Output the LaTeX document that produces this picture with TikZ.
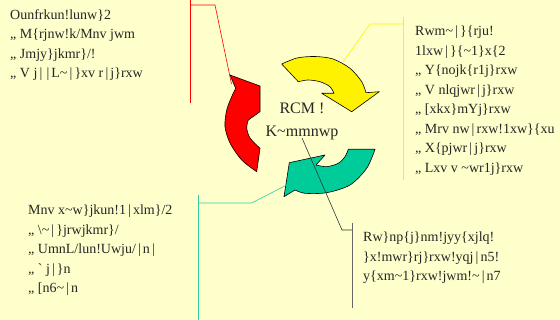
\documentclass[tikz,border=0pt]{standalone}
\usepackage{fontspec}
\setmainfont{Liberation Serif}
\usepackage{tikz}
\definecolor{paper}{HTML}{FFFFCC}
\definecolor{sea}{HTML}{00CC99}
\definecolor{sealine}{HTML}{33CC99}
\newcommand{\vb}{\makebox[7pt]{\textbar}}
\newcommand{\tld}{\textasciitilde}
\tikzset{x=1pt, y=-1pt,
	note/.style={anchor=north west, inner sep=0pt, align=left, text=black!85, font=\fontsize{14}{19.5}\selectfont},
	band/.style={draw=black, line width=0.6pt, line join=round}}

\begin{document}
\begin{tikzpicture}
	\fill [paper] (0,0) rectangle (560,320);
	\useasboundingbox (0,0) rectangle (560,320);

	\path [band, fill=red] plot [smooth] coordinates {(256.7,171.7) (241.7,160) (230,143) (225,126.7) (226.7,110) (231.7,96.7) (235.7,88.3)} -- (230,75) -- (260,86) -- (260,111.7) -- (248.3,120) -- plot [smooth] coordinates {(248.3,120) (246.7,128) (250,138) (260,148.3)} -- cycle;
	\path [band, fill=yellow] plot [smooth] coordinates {(281.7,64) (297,58) (315,56.5) (333,59) (350,68.3) (361.7,81.7) (366,92.7)} -- (379.3,91.7) -- (351.7,111.7) -- (321.7,93.3) -- (334,93.3) -- plot [smooth] coordinates {(334,93.3) (330,86.7) (320,81.7) (308,80) (298.3,81.7)} -- cycle;
	\path [band, fill=sea] (348.3,149.3) -- (375,149.3) -- plot [smooth] coordinates {(375,149.3) (366.7,168.3) (350,185) (326.7,192.7) (305,193.3) (295,190)} -- (284,196.7) -- (289.3,162.7) -- (325,155) -- (316,165) -- plot [smooth] coordinates {(316,165) (326.7,166.7) (338.3,163.3) (345,156.7) (348.3,149.3)} -- cycle;

	\node (CYCLE) [align=center, inner sep=0pt, anchor=north, text=black!85, font=\fontsize{16}{23}\selectfont] at (302,103) {RCM !\\K\tld mmnwp};

	\node (TL) [note] at (10,9) {Ounfrkun!lunw\}2\\„ M\{rjnw!k/Mnv jwm\\„ Jmjy\}jkmr\}/!\\„ V j\vb\vb L\tld\vb\}xv r\vb j\}rxw};
	\node (TR) [note] at (415,26) {Rwm\tld\vb\}\{rju!\\1lxw\vb\}\{\tld 1\}x\{2\\„ Y\{nojk\{r1j\}rxw\\„ V nlqjwr\vb j\}rxw\\„ [xkx\}mYj\}rxw\\„ Mrv nw\vb rxw!1xw\}\{xu\\„ X\{pjwr\vb j\}rxw\\„ Lxv v \tld wr1j\}rxw};
	\node (BL) [note] at (28,205) {Mnv x\tld w\}jkun!1\vb xlm\}/2\\„ \textbackslash\tld\vb\}jrwjkmr\}/\\„ UmnL/lun!Uwju/\vb n\vb\\„ \textasciigrave{} j\vb\}n\\„ [n6\tld\vb n};
	\node (BR) [note] at (363,232) {Rw\}np\{j\}nm!jyy\{xjlq!\\\}x!mwr\}rj\}rxw!yqj\vb n5!\\y\{xm\tld 1\}rxw!jwm!\tld\vb n7};

	\coordinate (RA) at (231.5,84);
	\coordinate (R1) at (215,5);
	\coordinate (R2) at (190,5);
	\coordinate (R0) at (190,0);
	\coordinate (R3) at (190,103);
	\coordinate (YA) at (343,62);
	\coordinate (Y1) at (370,24);
	\coordinate (Y2) at (403,24);
	\coordinate (Y0) at (403,17);
	\coordinate (Y3) at (403,180);
	\coordinate (GA) at (286.7,185);
	\coordinate (G1) at (251.7,203);
	\coordinate (G2) at (198,203);
	\coordinate (G0) at (198,195);
	\coordinate (G3) at (198,320);
	\coordinate (KA) at (302,138);
	\coordinate (K1) at (342,230);
	\coordinate (K2) at (352,230);
	\coordinate (K0) at (352,223);
	\coordinate (K3) at (352,308);

	\path [draw=red, line width=0.6pt] (RA) -- (R1) -- (R2);
	\path [draw=red, line width=0.6pt] (R0) -- (R3);
	\path [draw=yellow, line width=0.6pt] (YA) -- (Y1) -- (Y2);
	\path [draw=yellow, line width=0.6pt] (Y0) -- (Y3);
	\path [draw=sealine, line width=0.6pt] (GA) -- (G1) -- (G2);
	\path [draw=sealine, line width=0.6pt] (G0) -- (G3);
	\path [draw=black!80, line width=0.6pt] (KA) -- (K1) -- (K2);
	\path [draw=black!60, line width=0.8pt] (K0) -- (K3);
\end{tikzpicture}
\end{document}
